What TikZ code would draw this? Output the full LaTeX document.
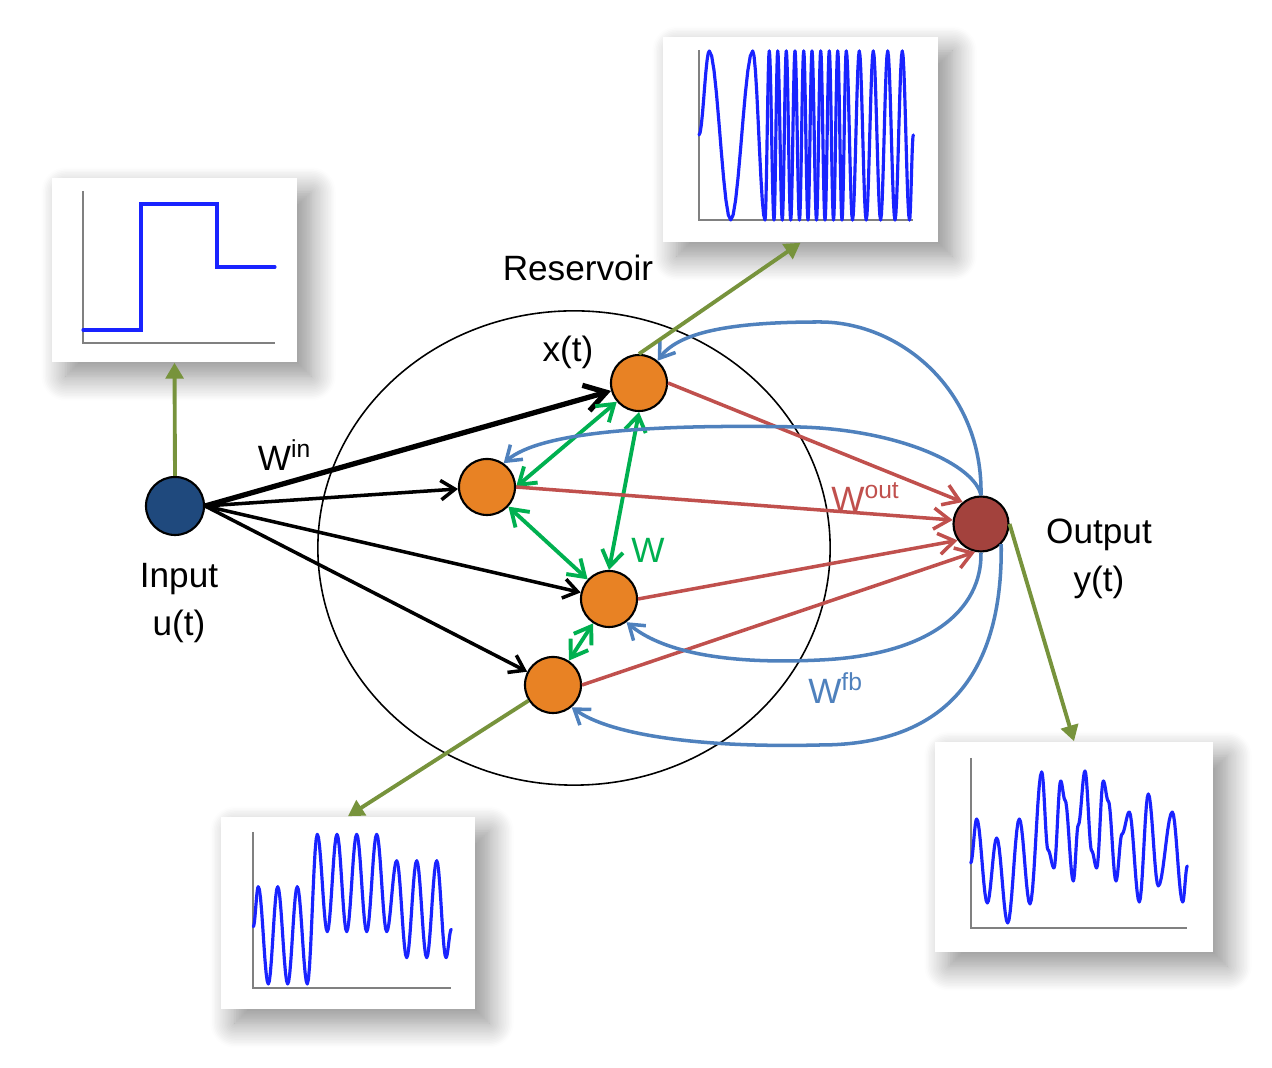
\documentclass[tikz,border=0pt]{standalone}
\usepackage{fontspec}
\setmainfont{Liberation Sans}
\usetikzlibrary{arrows.meta,shapes.geometric,shadows.blur}

\definecolor{inblue}{RGB}{31,73,125}
\definecolor{unitorange}{RGB}{232,130,36}
\definecolor{outred}{RGB}{163,66,61}
\definecolor{wgreen}{RGB}{0,176,80}
\definecolor{woutred}{RGB}{192,80,77}
\definecolor{fbblue}{RGB}{79,129,189}
\definecolor{tapgreen}{RGB}{119,147,60}
\definecolor{sigblue}{RGB}{25,35,255}

\newcommand{\sigwave}[3]{%
  \foreach \xb/\yb [remember=\xb as \xa (initially #1), remember=\yb as \ya (initially #2)] in {#3}
    {\draw[sig] plot[domain=\xa:\xb, samples=10] (\x, {(\ya+\yb)/2+(\ya-\yb)/2*cos(180*(\x-\xa)/(\xb-\xa))});}
}

\begin{document}
\begin{tikzpicture}[x=0.01cm, y=-0.01cm,
    unit/.style={circle, draw, line width=0.6pt, minimum size=0.56cm, inner sep=0pt},
    plotbox/.style={fill=white, inner sep=0pt,
      blur shadow={shadow xshift=4pt, shadow yshift=-4pt, shadow blur radius=7pt, shadow blur steps=16, shadow opacity=45}},
    sig/.style={sigblue, line width=0.9pt, line cap=round, line join=round},
    axis/.style={gray, line width=0.4pt},
    txt/.style={font=\fontsize{10}{13.5}\selectfont, align=center, inner sep=0pt},
    inarrow/.style={-{Straight Barb[length=4pt,width=5.5pt]}, line width=1pt},
    warrow/.style={{Straight Barb[length=4.5pt,width=6pt]}-{Straight Barb[length=4.5pt,width=6pt]}, wgreen, line width=1.1pt},
    outarrow/.style={-{Straight Barb[length=4.5pt,width=6pt]}, woutred, line width=1pt},
    fbarrow/.style={-{Straight Barb[length=4pt,width=5.5pt]}, fbblue, line width=1pt},
    tap/.style={-{Triangle[length=4.5pt,width=5pt]}, tapgreen, line width=1.1pt}]

  \useasboundingbox (0,0) rectangle (1272,1068);

  \node[plotbox, minimum width=2.45cm, minimum height=1.84cm] (U) at (174.5,270) {};
  \node[plotbox, minimum width=2.75cm, minimum height=2.05cm] (X) at (800.5,139.5) {};
  \node[plotbox, minimum width=2.54cm, minimum height=1.92cm] (Z) at (348,913) {};
  \node[plotbox, minimum width=2.78cm, minimum height=2.10cm] (Y) at (1074,847) {};

  \draw[axis] (83,191) -- (83,343) -- (275,343);
  \draw[sig, line join=miter] (83,330) -- (141,330) -- (141,204) -- (217,204) -- (217,267) -- (275,267);

  \draw[axis] (699,50) -- (699,220) -- (913,220);
  \sigwave{699}{135}{709.3/51, 730.7/220, 752.7/51, 765/220, 769.3/51, 774/220, 777.7/51, 782.3/220,
    786.3/51, 790.7/220, 795/51, 799.5/220, 803.7/51, 808/220, 812/51, 816.5/220, 820.7/51, 825/220,
    829.3/51, 833.5/220, 837.7/51, 842/220, 846.3/51, 852.5/220, 859.3/51, 866.2/220, 873.3/51,
    880.6/220, 887.7/51, 895/220, 902.3/51, 909.5/220, 913.3/135}

  \draw[axis] (253,832) -- (253,988) -- (451,988);
  \sigwave{253.3}{926.7}{258.3/886.7, 268.3/984, 277.7/886.7, 287.7/984, 297.3/886.7, 307.3/984,
    317.3/834.3, 327.3/931.7, 337/834.3, 346.7/931.7, 356.7/834.3, 366.7/931.7, 376.7/834.3,
    386.7/931.7, 396.7/860.7, 406.7/957.7, 416.7/860.7, 426.7/957.7, 436.7/860.7, 446/957.7, 451.3/929.3}

  \draw[axis] (971,758) -- (971,928) -- (1187,928);
  \sigwave{970.7}{863}{976.7/819, 987.3/903, 996.7/838, 1007.7/923, 1019.3/819, 1030/904, 1041.7/772,
    1048/850, 1054/868, 1060.7/781, 1065/800, 1073.3/881, 1078.3/825, 1085/771, 1091.7/851,
    1096.7/868, 1103.3/781, 1108.3/801, 1116/881, 1122/834, 1129.3/812, 1139.3/902, 1148.3/794,
    1158.3/886, 1172.3/812, 1182.7/902, 1187.3/866}

  \node[draw, ellipse, line width=0.45pt, minimum width=5.12cm, minimum height=4.74cm, inner sep=0pt] (res) at (574,548) {};

  \node[txt] (restxt) at (578,268) {Reservoir};
  \node[txt] (xtxt) at (568,352) {x(t)};
  \node[txt] (wintxt) at (285,455) {W\textsuperscript{in}};
  \node[txt] (intxt) at (179,603) {Input\\u(t)};
  \node[txt, text=wgreen] (wtxt) at (648,550) {W};
  \node[txt, text=woutred] (wouttxt) at (866,497) {W\textsuperscript{out}};
  \node[txt, text=fbblue] (wfbtxt) at (836,688) {W\textsuperscript{fb}};
  \node[txt] (outtxt) at (1099,559) {Output\\y(t)};

  \node[unit, fill=inblue, minimum size=0.58cm] (u) at (175,506) {};
  \node[unit, fill=unitorange] (x1) at (639,383) {};
  \node[unit, fill=unitorange] (x2) at (487,487) {};
  \node[unit, fill=unitorange] (x3) at (609,599) {};
  \node[unit, fill=unitorange] (x4) at (553,685) {};
  \node[unit, fill=outred, minimum size=0.55cm] (y) at (981,524) {};

  \draw[-{Straight Barb[length=6pt,width=7.5pt]}, line width=1.5pt] (u.east) -- (x1);
  \draw[inarrow] (u.east) -- (x2);
  \draw[inarrow] (u.east) -- (x3);
  \draw[inarrow] (u.east) -- (x4);

  \draw[warrow] (x1) -- (x2.east);
  \draw[warrow] (x1.south) -- (x3.north);
  \draw[warrow] (x2) -- (x3);
  \draw[warrow] (x3) -- (x4);

  \draw[outarrow] (x1.east) -- (y.130);
  \draw[outarrow] (x2.east) -- (y.172);
  \draw[outarrow] (x3.east) -- (y.215);
  \draw[outarrow] (x4.east) -- (y.258);

  \draw[fbarrow] (y.north) .. controls (983,390) and (900,322) .. (820,322)
    .. controls (740,322) and (680,330) .. (x1.50);
  \draw[fbarrow] (y.north) .. controls (975,465) and (900,430) .. (800,427)
    .. controls (650,424) and (540,432) .. (x2.55);
  \draw[fbarrow] (y.south) .. controls (982,610) and (930,655) .. (820,660)
    .. controls (720,665) and (660,650) .. (x3.-53);
  \draw[fbarrow] (y.-45) .. controls (1003,680) and (940,745) .. (820,745)
    .. controls (700,748) and (610,735) .. (x4.-50);

  \draw[tap] (u.north) -- (U.south);
  \draw[tap] (x1.north) -- (X.south);
  \draw[tap] (x4) -- (Z.north);
  \draw[tap] (y.east) -- (Y.north);
\end{tikzpicture}
\end{document}
